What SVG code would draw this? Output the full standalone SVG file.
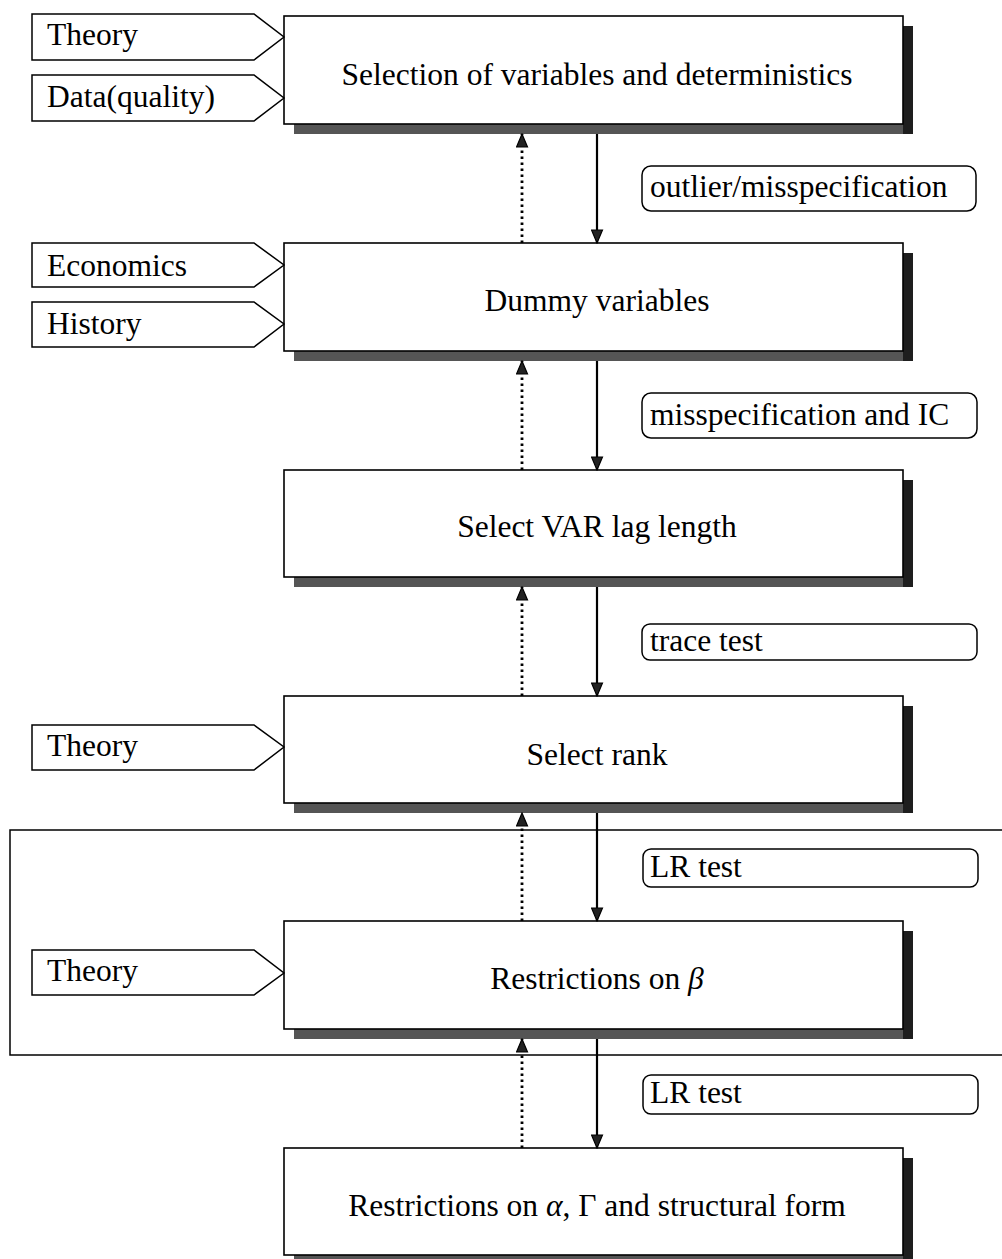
<svg xmlns="http://www.w3.org/2000/svg" width="1002" height="1259" viewBox="0 0 1002 1259">
<style>
  text { font-family: "Liberation Serif", "Times New Roman", serif; font-size: 31.5px; fill: #000; }
  .box { fill: #fff; stroke: #000; stroke-width: 1.6; }
  .shb { fill: #555; }
  .shr { fill: #1e1e1e; }
  .inp { fill: #fff; stroke: #000; stroke-width: 1.5; stroke-linejoin: miter; }
  .lab { fill: #fff; stroke: #000; stroke-width: 1.5; }
  .solid { stroke: #000; stroke-width: 2.2; fill: none; }
  .dot { stroke: #000; stroke-width: 2.8; fill: none; stroke-dasharray: 2.5 3.5; }
  .mid { text-anchor: middle; }
  .frame { fill: none; stroke: #000; stroke-width: 1.5; }
</style>
<defs>
  <marker id="ah" markerUnits="userSpaceOnUse" markerWidth="15" markerHeight="13" refX="14" refY="6.5" orient="auto">
    <path d="M1,1 L14,6.5 L1,12 z" fill="#222" stroke="#000" stroke-width="1.2"/>
  </marker>
</defs>
<rect width="1002" height="1259" fill="#fff"/>

<rect class="frame" x="10" y="830" width="1010" height="225"/>

<g id="node-selection">
  <rect class="shb" x="294" y="124" width="619" height="10"/>
  <rect class="shr" x="903" y="26" width="10" height="108"/>
  <rect class="box" x="284" y="16" width="619" height="108"/>
  <text class="mid" x="597" y="85">Selection of variables and deterministics</text>
</g>
<g id="node-dummy">
  <rect class="shb" x="294" y="351" width="619" height="10"/>
  <rect class="shr" x="903" y="253" width="10" height="108"/>
  <rect class="box" x="284" y="243" width="619" height="108"/>
  <text class="mid" x="597" y="311">Dummy variables</text>
</g>
<g id="node-lag">
  <rect class="shb" x="294" y="577" width="619" height="10"/>
  <rect class="shr" x="903" y="480" width="10" height="107"/>
  <rect class="box" x="284" y="470" width="619" height="107"/>
  <text class="mid" x="597" y="537">Select VAR lag length</text>
</g>
<g id="node-rank">
  <rect class="shb" x="294" y="803" width="619" height="10"/>
  <rect class="shr" x="903" y="706" width="10" height="107"/>
  <rect class="box" x="284" y="696" width="619" height="107"/>
  <text class="mid" x="597" y="765">Select rank</text>
</g>
<g id="node-beta">
  <rect class="shb" x="294" y="1029" width="619" height="10"/>
  <rect class="shr" x="903" y="931" width="10" height="108"/>
  <rect class="box" x="284" y="921" width="619" height="108"/>
  <text class="mid" x="597" y="989">Restrictions on <tspan font-style="italic">β</tspan></text>
</g>
<g id="node-alpha">
  <rect class="shb" x="294" y="1255" width="619" height="10"/>
  <rect class="shr" x="903" y="1158" width="10" height="107"/>
  <rect class="box" x="284" y="1148" width="619" height="107"/>
  <text class="mid" x="597" y="1216">Restrictions on <tspan font-style="italic">α</tspan>, Γ and structural form</text>
</g>

<g id="input-theory-1">
  <polygon class="inp" points="32,14 254,14 284,37 254,60 32,60"/>
  <text x="47" y="45">Theory</text>
</g>
<g id="input-data">
  <polygon class="inp" points="32,75 254,75 284,98 254,121 32,121"/>
  <text x="47" y="107">Data(quality)</text>
</g>
<g id="input-economics">
  <polygon class="inp" points="32,243 254,243 284,265 254,287 32,287"/>
  <text x="47" y="276">Economics</text>
</g>
<g id="input-history">
  <polygon class="inp" points="32,302 254,302 284,324 254,347 32,347"/>
  <text x="47" y="334">History</text>
</g>
<g id="input-theory-2">
  <polygon class="inp" points="32,725 254,725 284,747 254,770 32,770"/>
  <text x="47" y="756">Theory</text>
</g>
<g id="input-theory-3">
  <polygon class="inp" points="32,950 254,950 284,973 254,995 32,995"/>
  <text x="47" y="981">Theory</text>
</g>

<g id="label-outlier">
  <rect class="lab" x="642" y="166" width="334" height="45" rx="9"/>
  <text x="650" y="197">outlier/misspecification</text>
</g>
<g id="label-misspec">
  <rect class="lab" x="642" y="393" width="335" height="45" rx="9"/>
  <text x="650" y="425">misspecification and IC</text>
</g>
<g id="label-trace">
  <rect class="lab" x="642" y="624" width="335" height="36" rx="8"/>
  <text x="650" y="651">trace test</text>
</g>
<g id="label-lr1">
  <rect class="lab" x="643" y="849" width="335" height="38" rx="8"/>
  <text x="650" y="877">LR test</text>
</g>
<g id="label-lr2">
  <rect class="lab" x="643" y="1075" width="335" height="39" rx="8"/>
  <text x="650" y="1103">LR test</text>
</g>

<g id="connectors">
  <line class="solid" x1="597" y1="134" x2="597" y2="243" marker-end="url(#ah)"/>
  <line class="dot" x1="522" y1="243" x2="522" y2="134" marker-end="url(#ah)"/>
  <line class="solid" x1="597" y1="361" x2="597" y2="470" marker-end="url(#ah)"/>
  <line class="dot" x1="522" y1="470" x2="522" y2="361" marker-end="url(#ah)"/>
  <line class="solid" x1="597" y1="587" x2="597" y2="696" marker-end="url(#ah)"/>
  <line class="dot" x1="522" y1="696" x2="522" y2="587" marker-end="url(#ah)"/>
  <line class="solid" x1="597" y1="813" x2="597" y2="921" marker-end="url(#ah)"/>
  <line class="dot" x1="522" y1="921" x2="522" y2="813" marker-end="url(#ah)"/>
  <line class="solid" x1="597" y1="1039" x2="597" y2="1148" marker-end="url(#ah)"/>
  <line class="dot" x1="522" y1="1148" x2="522" y2="1039" marker-end="url(#ah)"/>
</g>
</svg>
